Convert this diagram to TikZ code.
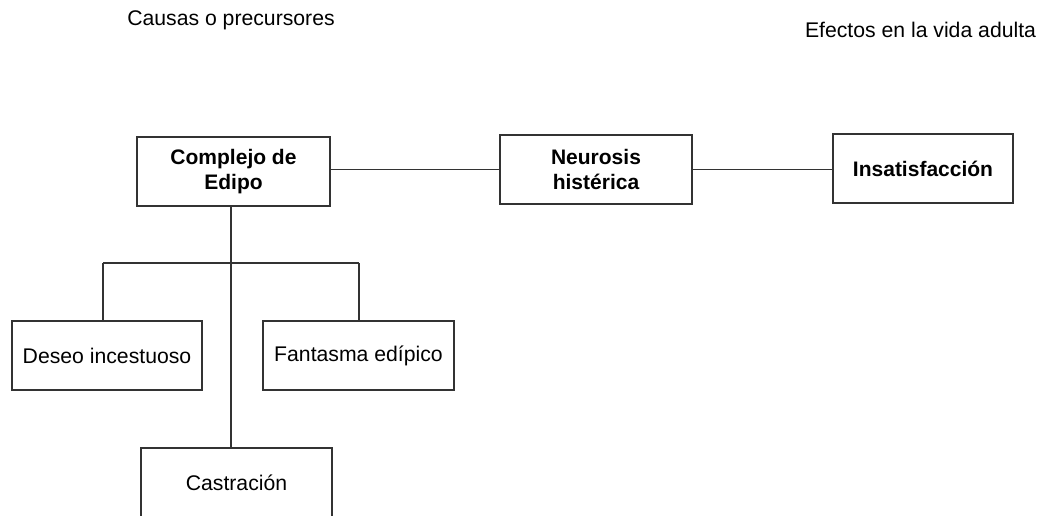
\documentclass[tikz,border=0pt]{standalone}
\usepackage{fontspec}
\setmainfont{Liberation Sans}
\begin{document}
\begin{tikzpicture}[x=1pt,y=-1pt,
  box/.style={draw=black!80,line width=1.2pt,fill=white,minimum height=69pt,inner sep=0pt,align=center,font=\fontsize{21.2}{24.5}\selectfont},
  bbox/.style={box,font=\fontsize{21}{24.5}\selectfont\bfseries},
  title/.style={font=\fontsize{21.2}{24.5}\selectfont,inner sep=0pt},
  conn/.style={draw=black!80,line width=1.2pt}]
\useasboundingbox (0,0) rectangle (1039,516);
\clip (0,0) rectangle (1039,516);
\node[title] (t1) at (231,20) {Causas o precursores};
\node[title] (t2) at (920.5,30) {Efectos en la vida adulta};
\node[bbox,minimum width=193pt] (comp) at (233.5,171.5) {Complejo de\\Edipo};
\node[bbox,minimum width=192pt] (neur) at (596,169.5) {Neurosis\\histérica};
\node[bbox,minimum width=180pt] (ins) at (923,168.5) {Insatisfacción};
\node[box,minimum width=190pt] (des) at (107,355.5) {Deseo incestuoso};
\node[box,minimum width=191pt] (fan) at (358.5,355.5) {Fantasma edípico};
\node[box,minimum width=191pt] (cas) at (236.5,482.5) {Castración};
\coordinate (top) at (231,206);
\coordinate (br) at (231,263);
\coordinate (bl) at (103,263);
\coordinate (brr) at (359,263);
\draw[conn] (neur.west) -- (neur.west -| comp.east);
\draw[conn] (neur.east) -- (neur.east -| ins.west);
\draw[conn] (top) -- (top |- cas.north);
\draw[conn] (bl) -- (brr);
\draw[conn] (bl) -- (bl |- des.north);
\draw[conn] (brr) -- (brr |- fan.north);
\end{tikzpicture}
\end{document}
